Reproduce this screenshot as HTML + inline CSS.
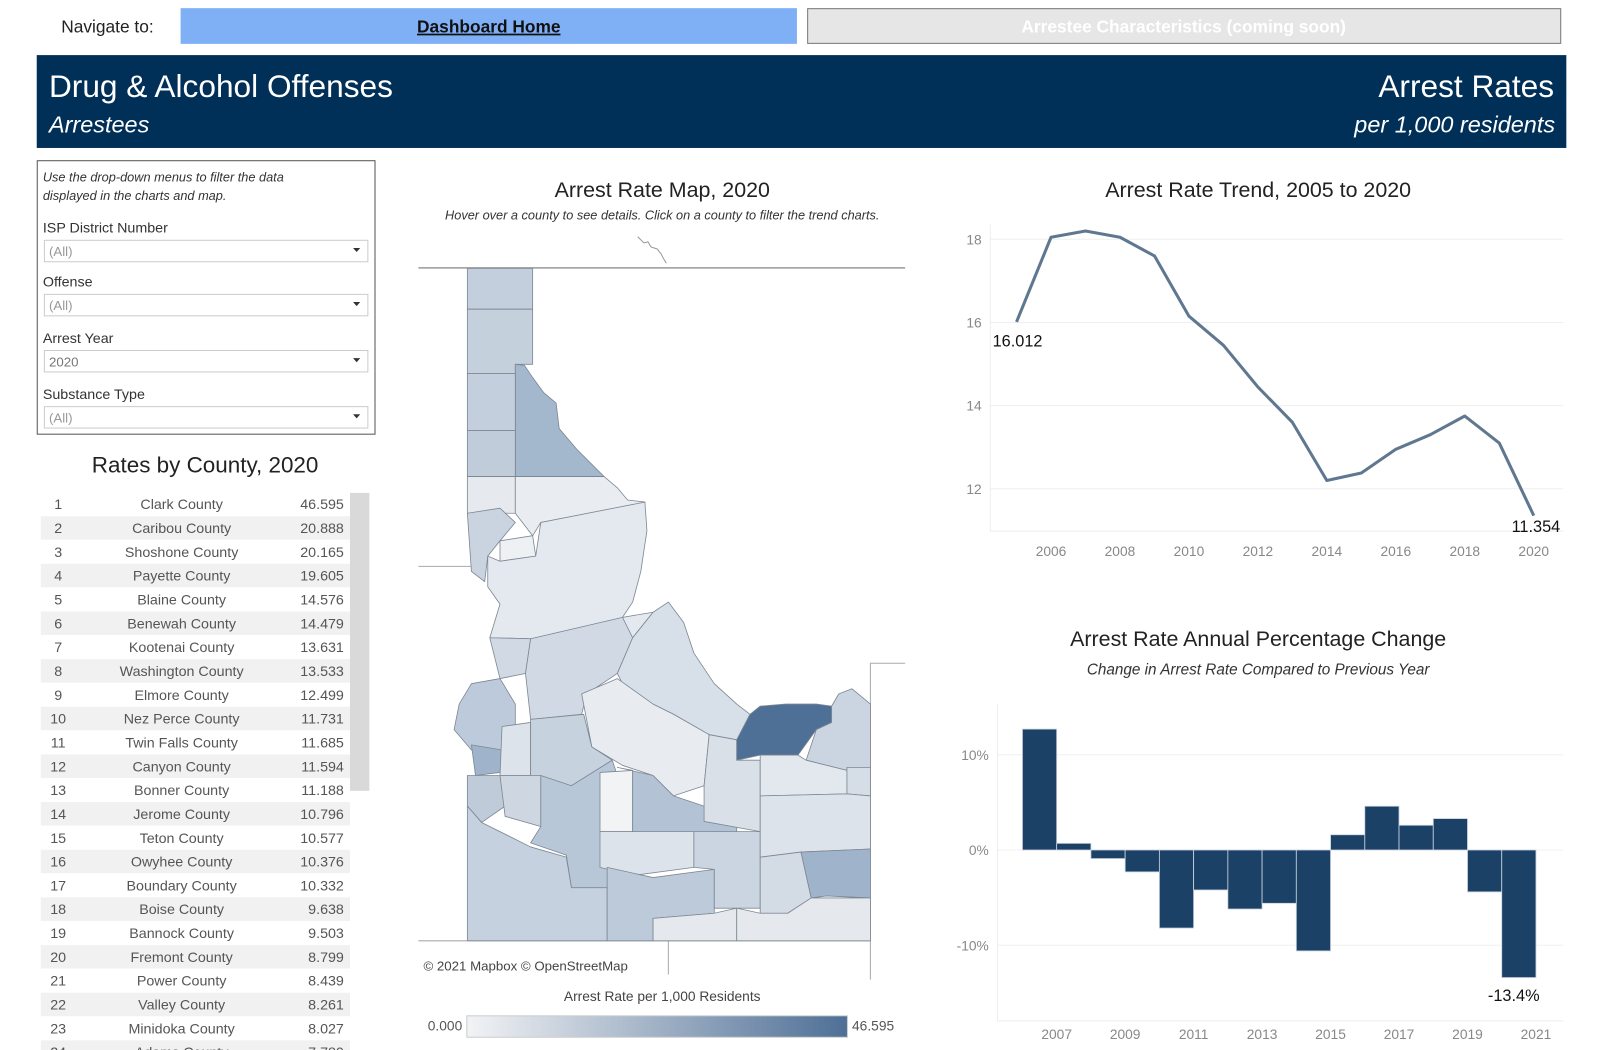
<!DOCTYPE html>
<html><head><meta charset="utf-8">
<style>
html,body{margin:0;padding:0;background:#fff;}
svg{display:block;font-family:"Liberation Sans","DejaVu Sans",sans-serif;}
</style></head>
<body>
<svg id="page" width="1600" height="1050" viewBox="0 0 1600 1050" xmlns="http://www.w3.org/2000/svg">
 <defs>
    <linearGradient id="grad" x1="0" x2="1" y1="0" y2="0">
      <stop offset="0" stop-color="#f2f3f5"/><stop offset="1" stop-color="#4e6f96"/>
    </linearGradient>
 </defs>
 <g transform="scale(1.020408)">
  <!-- Navigation -->
  <text x="60" y="32" font-size="17" fill="#222">Navigate to:</text>
  <rect x="177" y="8" width="604" height="35" fill="#7fb0f5"/>
  <text x="479" y="32" font-size="17" font-weight="bold" fill="#111" text-anchor="middle" text-decoration="underline">Dashboard Home</text>
  <rect x="791.5" y="8.5" width="738" height="34" fill="#e6e6e6" stroke="#777"/>
  <text x="1160" y="32" font-size="17" font-weight="bold" fill="#fff" text-anchor="middle">Arrestee Characteristics (coming soon)</text>

  <!-- Title banner -->
  <rect x="36" y="54" width="1499" height="91" fill="#002f57"/>
  <text x="48" y="95" font-size="31" fill="#fff">Drug &amp; Alcohol Offenses</text>
  <text x="48" y="130" font-size="23" font-style="italic" fill="#fff">Arrestees</text>
  <text x="1523" y="95" font-size="31" fill="#fff" text-anchor="end">Arrest Rates</text>
  <text x="1524" y="130" font-size="23" font-style="italic" fill="#fff" text-anchor="end">per 1,000 residents</text>

  <!-- Filter panel -->
  <g>
    <rect x="36.5" y="157.5" width="331" height="268" fill="#fff" stroke="#555"/>
    <text x="42" y="178" font-size="12.5" font-style="italic" fill="#333">Use the drop-down menus to filter the data</text>
    <text x="42" y="196" font-size="12.5" font-style="italic" fill="#333">displayed in the charts and map.</text>
    <text x="42" y="228" font-size="14" fill="#333">ISP District Number</text>
    <g>
      <rect x="43.5" y="235.5" width="317" height="21" fill="#fff" stroke="#ccc"/>
      <text x="48" y="251" font-size="13" fill="#999">(All)</text>
      <path d="M346 243 l7 0 l-3.5 4 z" fill="#333"/>
    </g>
    <text x="42" y="281" font-size="14" fill="#333">Offense</text>
    <g>
      <rect x="43.5" y="288.5" width="317" height="21" fill="#fff" stroke="#ccc"/>
      <text x="48" y="304" font-size="13" fill="#999">(All)</text>
      <path d="M346 296 l7 0 l-3.5 4 z" fill="#333"/>
    </g>
    <text x="42" y="336" font-size="14" fill="#333">Arrest Year</text>
    <g>
      <rect x="43.5" y="343.5" width="317" height="21" fill="#fff" stroke="#ccc"/>
      <text x="48" y="359" font-size="13" fill="#777">2020</text>
      <path d="M346 351 l7 0 l-3.5 4 z" fill="#333"/>
    </g>
    <text x="42" y="391" font-size="14" fill="#333">Substance Type</text>
    <g>
      <rect x="43.5" y="398.5" width="317" height="21" fill="#fff" stroke="#ccc"/>
      <text x="48" y="414" font-size="13" fill="#999">(All)</text>
      <path d="M346 406 l7 0 l-3.5 4 z" fill="#333"/>
    </g>
  </g>

  <!-- County table -->
  <text x="201" y="463" font-size="22" fill="#222" text-anchor="middle">Rates by County, 2020</text>
  <g id="table"></g>
  <rect x="343" y="483" width="19" height="292" fill="#d9d9d9"/>

  <!-- Map -->
  <text x="649" y="193" font-size="21" fill="#222" text-anchor="middle">Arrest Rate Map, 2020</text>
  <text x="649" y="215" font-size="12.5" font-style="italic" fill="#333" text-anchor="middle">Hover over a county to see details. Click on a county to filter the trend charts.</text>
  <g id="map">
    <line x1="410" y1="262.5" x2="887" y2="262.5" stroke="#999" stroke-width="1.5"/>
    <path d="M625 232 l6 6 l4 -1 l3 5 l6 2 l4 5 l2 4 l3 5" fill="none" stroke="#999"/>
    <line x1="410" y1="555" x2="472" y2="555" stroke="#aaa"/>
    <line x1="410" y1="922" x2="853" y2="922" stroke="#aaa"/>
    <polyline points="853,960 853,650 887,650" fill="none" stroke="#aaa"/>
    <line x1="655" y1="922" x2="655" y2="955" stroke="#aaa"/>
  </g>
  <text x="415" y="951" font-size="13" fill="#444">© 2021 Mapbox  © OpenStreetMap</text>

  <!-- Legend -->
  <text x="649" y="981" font-size="13.5" fill="#444" text-anchor="middle">Arrest Rate per 1,000 Residents</text>
  <rect x="457.5" y="995.5" width="373" height="21" fill="url(#grad)" stroke="#ccc"/>
  <text x="453" y="1010" font-size="13.5" fill="#555" text-anchor="end">0.000</text>
  <text x="835" y="1010" font-size="13.5" fill="#555">46.595</text>

  <!-- Trend chart -->
  <text x="1233" y="193" font-size="21" fill="#222" text-anchor="middle">Arrest Rate Trend, 2005 to 2020</text>
  <g id="trend"></g>

  <!-- Bar chart -->
  <text x="1233" y="633" font-size="21" fill="#222" text-anchor="middle">Arrest Rate Annual Percentage Change</text>
  <text x="1233" y="661" font-size="15" font-style="italic" fill="#333" text-anchor="middle">Change in Arrest Rate Compared to Previous Year</text>
  <g id="bars"></g>
 </g>
</svg>

<script>
const NS = "http://www.w3.org/2000/svg";
function mk(tag, attrs, parent, txt){
  const e = document.createElementNS(NS, tag);
  for (const k in attrs) e.setAttribute(k, attrs[k]);
  if (txt !== undefined) e.textContent = txt;
  parent.appendChild(e);
  return e;
}

// ---------- Table data ----------
const countyNames = ["Clark County","Caribou County","Shoshone County","Payette County","Blaine County","Benewah County","Kootenai County","Washington County","Elmore County","Nez Perce County","Twin Falls County","Canyon County","Bonner County","Jerome County","Teton County","Owyhee County","Boundary County","Boise County","Bannock County","Fremont County","Power County","Valley County","Minidoka County","Adams County"];
const countyRates = ["46.595","20.888","20.165","19.605","14.576","14.479","13.631","13.533","12.499","11.731","11.685","11.594","11.188","10.796","10.577","10.376","10.332","9.638","9.503","8.799","8.439","8.261","8.027","7.780"];

const table = document.getElementById('table');
countyNames.forEach((n, i) => {
  const cy = 494 + i * 23.35;
  if (i % 2 === 1) {
    const bg = mk('rect', {x:40, y:cy-11.5, width:303, height:23, fill:'#f1f1f1'}, table);
    
    
  }
  const g = mk('g', {}, table);
  
  
  mk('text', {x:57, y:cy+5, 'font-size':14, fill:'#555', 'text-anchor':'middle'}, g, String(i+1));
  mk('text', {x:178, y:cy+5, 'font-size':14, fill:'#555', 'text-anchor':'middle'}, g, n);
  mk('text', {x:337, y:cy+5, 'font-size':14, fill:'#555', 'text-anchor':'end'}, g, countyRates[i]);
});
mk('rect', {x:0, y:1029, width:400, height:30, fill:'#fff'}, table);

// ---------- Map (approximate county shapes) ----------
const map = document.getElementById('map');
const counties = [
 ["boundary","#c3cfdc","458,263 522,263 522,303 458,303"],
 ["bonner","#c5d0dd","458,303 522,303 522,357 505,357 505,366 458,366"],
 ["shoshone","#a3b7cd","505,357 514,358 522,370 533,385 545,395 548,420 565,440 580,455 592,467 505,467"],
 ["kootenai","#c3cfdc","458,366 505,366 505,422 458,422"],
 ["benewah","#c0ccda","458,422 505,422 505,467 458,467"],
 ["latah","#e6eaef","458,467 505,467 505,503 458,503"],
 ["clearwater","#e9edf1","505,467 592,467 605,478 615,490 632,492 630,500 530,512 522,525 505,503"],
 ["nez-perce","#c9d4e0","458,503 490,498 505,512 490,530 478,545 475,570 462,560"],
 ["lewis","#eef1f4","490,530 522,525 525,545 490,550"],
 ["idaho","#e4e9ef","478,545 490,550 525,545 530,512 632,492 634,520 628,560 620,590 610,605 640,600 620,625 560,625 520,626 480,625 490,592 478,575"],
 ["adams","#d1dae4","480,625 520,626 515,660 490,665 485,645"],
 ["washington","#bccadb","462,670 490,665 505,690 505,740 462,735 445,715 450,690"],
 ["valley","#d1dae4","520,626 610,605 620,625 605,660 575,680 570,700 520,705 515,660"],
 ["lemhi","#d7dfe8","605,660 620,625 640,600 655,590 670,610 680,640 700,670 722,690 735,700 722,725 695,720 660,700 640,690 615,680"],
 ["custer","#e8ecf0","570,680 605,665 640,690 660,700 695,720 690,770 660,780 640,760 610,750 580,732"],
 ["payette","#9fb4cb","462,730 492,735 490,757 466,760"],
 ["gem","#dde3ea","492,712 520,708 520,760 490,760"],
 ["boise","#c6d2de","520,705 572,700 580,732 600,745 560,770 520,760"],
 ["canyon","#bfcbd9","458,760 490,760 495,790 472,806 458,790"],
 ["ada","#cdd6e1","490,760 530,760 530,810 495,800"],
 ["elmore","#b8c7d7","530,760 560,770 600,745 605,760 605,870 560,870 555,838 520,826 530,810"],
 ["owyhee","#c5d1de","458,790 472,806 520,830 555,840 560,870 595,870 595,922 458,922"],
 ["camas","#f2f3f5","588,757 620,755 620,815 588,815"],
 ["blaine","#b3c3d5","605,752 640,760 660,780 690,790 722,805 722,825 660,818 620,815 620,755"],
 ["gooding-lincoln","#dde3ea","588,815 680,815 680,850 620,858 588,850"],
 ["twin-falls","#bccad9","595,850 640,860 700,852 700,895 640,900 640,922 595,922"],
 ["cassia","#e5e9ee","640,900 700,895 722,890 722,922 640,922"],
 ["minidoka-power","#cad5e1","680,815 745,815 745,890 700,890 700,852 680,850"],
 ["butte","#d9e0e8","695,720 722,725 722,745 745,745 745,815 690,805 690,770"],
 ["clark","#4e6f96","735,700 745,692 770,690 800,690 815,692 815,708 800,715 782,740 745,740 722,745 722,725"],
 ["fremont","#cad5e1","815,692 822,680 835,675 853,690 853,752 830,755 790,745 800,715 815,708"],
 ["jefferson","#e3e8ee","745,740 782,740 790,745 830,755 830,778 745,780"],
 ["bonneville","#d5dde6","830,752 853,752 853,780 830,778"],
 ["bingham","#dde3ea","745,780 830,778 853,780 853,832 785,835 745,840"],
 ["bannock","#d3dbe5","745,840 785,835 795,880 772,895 745,895"],
 ["caribou","#9fb4cb","785,835 853,832 853,880 810,878 795,880"],
 ["oneida-franklin","#e5e9ee","722,890 745,895 772,895 795,880 853,880 853,922 722,922"]
];
counties.forEach(c => {
  const p = mk('polygon', {points:c[2], fill:c[1], stroke:'#7d8793', 'stroke-width':0.8, 'stroke-linejoin':'round'}, map);
  
  
});

// ---------- Trend chart ----------
const trendYears = [2005,2006,2007,2008,2009,2010,2011,2012,2013,2014,2015,2016,2017,2018,2019,2020];
const trendValues = [16.012,18.05,18.2,18.05,17.6,16.15,15.45,14.45,13.6,12.2,12.38,12.95,13.3,13.75,13.1,11.354];
const trendYTicks = [12,14,16,18];
const trendXTicks = [2006,2008,2010,2012,2014,2016,2018,2020];

const tr = document.getElementById('trend');
const tx = y => 1030 + (y - 2006) * 33.79;
const ty = v => 479 - (v - 12) * 40.75;
trendYTicks.forEach(t => {
  const gl = mk('line', {x1:970, x2:1532, y1:ty(t), y2:ty(t), stroke:'#efefef'}, tr);
  
  
  const lb = mk('text', {x:962, y:ty(t)+5, 'font-size':13.5, fill:'#888', 'text-anchor':'end'}, tr, String(t));
  
  
});
mk('line', {x1:970.5, x2:970.5, y1:220, y2:521, stroke:'#eee'}, tr);
mk('line', {x1:970, x2:1532, y1:520.5, y2:520.5, stroke:'#eee'}, tr);
trendXTicks.forEach(t => {
  const lb = mk('text', {x:tx(t), y:545, 'font-size':13.5, fill:'#888', 'text-anchor':'middle'}, tr, String(t));
  
  
});
const pts = trendYears.map((y,i) => tx(y).toFixed(1) + ',' + ty(trendValues[i]).toFixed(1)).join(' ');
const line = mk('polyline', {points:pts, fill:'none', stroke:'#5f7890', 'stroke-width':3, 'stroke-linejoin':'round'}, tr);


const l1 = mk('text', {x:tx(trendYears[0])+1, y:ty(trendValues[0])+24, 'font-size':16, fill:'#111', 'text-anchor':'middle'}, tr, trendValues[0].toFixed(3));


const nL = trendValues.length - 1;
const l2 = mk('text', {x:tx(trendYears[nL])+26, y:ty(trendValues[nL])+16, 'font-size':16, fill:'#111', 'text-anchor':'end'}, tr, trendValues[nL].toFixed(3));



// ---------- Bar chart ----------
const barYears = [2006,2007,2008,2009,2010,2011,2012,2013,2014,2015,2016,2017,2018,2019,2020];
const barValues = [12.7,0.7,-0.9,-2.3,-8.2,-4.2,-6.2,-5.6,-10.6,1.6,4.6,2.6,3.3,-4.4,-13.4];
const barYTicks = [10,0,-10];
const barYTickLabels = ["10%","0%","-10%"];
const barXTicks = [2007,2009,2011,2013,2015,2017,2019,2021];

const bc = document.getElementById('bars');
const bw = 33.55;
const bx = y => 1002 + (y - 2006) * bw;
const by = v => 833 - v * 9.33;
barYTicks.forEach((t,i) => {
  const gl = mk('line', {x1:977, x2:1532, y1:by(t), y2:by(t), stroke:'#f0f0f0'}, bc);
  
  
  const lb = mk('text', {x:969, y:by(t)+5, 'font-size':13.5, fill:'#888', 'text-anchor':'end'}, bc, barYTickLabels[i]);
  
  
});
mk('line', {x1:977.5, x2:977.5, y1:690, y2:1000, stroke:'#eee'}, bc);
mk('line', {x1:977, x2:1532, y1:1000.5, y2:1000.5, stroke:'#eee'}, bc);
barValues.forEach((v,i) => {
  const y0 = by(Math.max(v,0)), y1 = by(Math.min(v,0));
  const r = mk('rect', {x:bx(barYears[i]), y:y0, width:bw, height:Math.max(y1-y0,1), fill:'#1b4167', stroke:'#c9d3de', 'stroke-width':0.8}, bc);
  
  
});
barXTicks.forEach(t => {
  const lb = mk('text', {x:bx(t), y:1018, 'font-size':13.5, fill:'#888', 'text-anchor':'middle'}, bc, String(t));
  
  
});
const lastI = barValues.length - 1;
const bl = mk('text', {x:bx(barYears[lastI]) + bw/2 - 5, y:by(barValues[lastI]) + 23, 'font-size':16, fill:'#111', 'text-anchor':'middle'}, bc, barValues[lastI].toFixed(1) + '%');


</script>
</body></html>
